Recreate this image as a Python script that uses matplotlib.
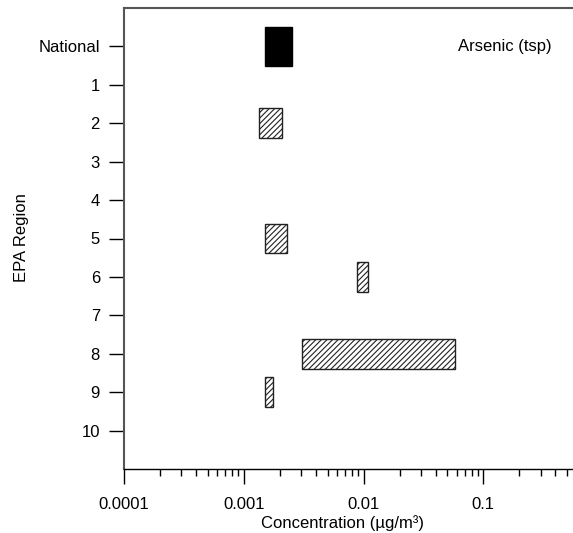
import matplotlib
matplotlib.use("Agg")
import matplotlib.pyplot as plt
from matplotlib.ticker import LogLocator, NullFormatter, FixedLocator, FixedFormatter

plt.rcParams['font.family'] = ['Liberation Sans', 'DejaVu Sans']
plt.rcParams['hatch.linewidth'] = 0.8

# Concentration ranges (µg/m³) by EPA region
regions = ["National", "1", "2", "3", "4", "5", "6", "7", "8", "9", "10"]
low = [0.00149, None, 0.00135, None, None, 0.00149, 0.00885, None, 0.00305, 0.00151, None]
high = [0.00252, None, 0.00208, None, None, 0.00229, 0.01087, None, 0.0579, 0.00175, None]
x_ticks = [0.0001, 0.001, 0.01, 0.1]
x_tick_labels = ["0.0001", "0.001", "0.01", "0.1"]

fig = plt.figure(figsize=(5.73, 5.33), dpi=100)
ax = fig.add_axes([124 / 573, 64 / 533, 449 / 573, 461 / 533])

for i, (lo, hi) in enumerate(zip(low, high)):
    if lo is None:
        continue
    if i == 0:
        ax.barh(i, hi - lo, left=lo, height=1.0, color="black",
                edgecolor="black", linewidth=1.0)
    else:
        ax.barh(i, hi - lo, left=lo, height=0.77, facecolor="white",
                edgecolor="#222222", linewidth=1.0, hatch="//////")

ax.set_xscale("log")
ax.set_xlim(1e-4, 0.56)
ax.set_ylim(11, -1)

ax.xaxis.set_major_locator(FixedLocator(x_ticks))
ax.xaxis.set_major_formatter(FixedFormatter(x_tick_labels))
ax.xaxis.set_minor_locator(LogLocator(base=10, subs=range(2, 10)))
ax.xaxis.set_minor_formatter(NullFormatter())

ax.set_yticks(range(len(regions)))
ax.set_yticklabels(regions)

ax.tick_params(axis="x", which="major", length=10.6, width=1.0, labelsize=12, pad=9.3)
ax.tick_params(axis="x", which="minor", length=5, width=1.0)
ax.tick_params(axis="y", which="major", length=10.6, width=1.0, labelsize=12, pad=6.7)

ax.spines["right"].set_visible(False)
for side in ("left", "top"):
    ax.spines[side].set_color("#555555")
    ax.spines[side].set_linewidth(1.5)
ax.spines["bottom"].set_color("black")
ax.spines["bottom"].set_linewidth(1.0)

ax.text(0.0616, 0, "Arsenic (tsp)", ha="left", va="center", fontsize=12)

ax.set_xlabel("Concentration (µg/m³)", fontsize=12, va="center")
ax.xaxis.set_label_coords(0.486, -0.1165)
ax.set_ylabel("EPA Region", fontsize=12, va="center")
ax.yaxis.set_label_coords(-0.228, 0.502)

fig.savefig("out.png", dpi=100)
